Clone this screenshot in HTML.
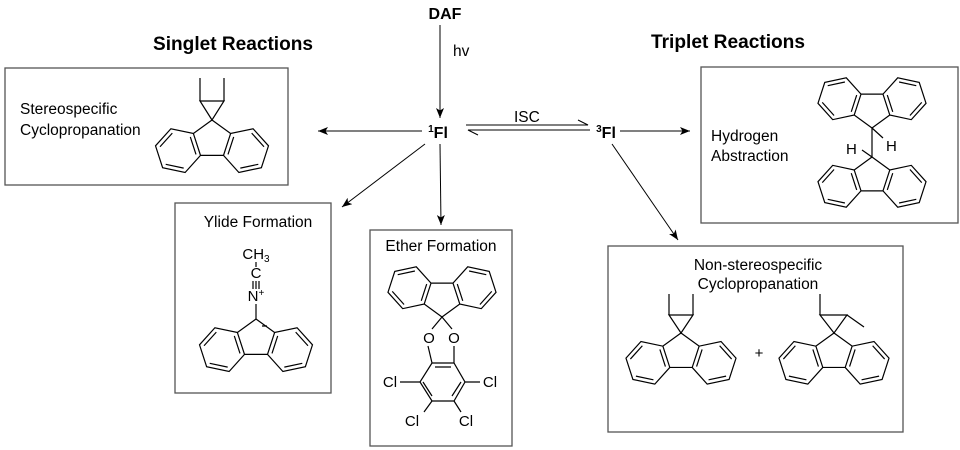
<!DOCTYPE html>
<html><head><meta charset="utf-8"><style>
html,body{margin:0;padding:0;background:#fff;}
svg{display:block;font-family:"Liberation Sans",Arial,sans-serif;}
.b{stroke:#000;stroke-width:1.2;fill:none;vector-effect:non-scaling-stroke}
</style></head><body>
<svg width="960" height="450" viewBox="0 0 960 450" xmlns="http://www.w3.org/2000/svg">
<defs>
<marker id="ar" markerWidth="10" markerHeight="8" refX="10" refY="4" orient="auto" markerUnits="userSpaceOnUse">
<path d="M0,0 L10,4 L0,8 L2.5,4 Z" fill="#000"/></marker>
<g id="half">
<path class="b" d="M0 0 L16.18 11.75 L35.74 7.59 L49.12 22.45 L42.94 41.47 L23.38 45.63 L10 30.77 L16.18 11.75 M10 30.77 L0 30.77 M18.86 14.72 L13.91 29.94 M34.5 11.39 L45.21 23.28 M40.26 38.5 L24.62 41.83"/>
</g>
<g id="fl"><use href="#half"/><use href="#half" transform="scale(-1,1)"/></g>
</defs>
<g fill="none" stroke="#555" stroke-width="1.3">
<rect x="5" y="68" width="283" height="117"/>
<rect x="175" y="203" width="156" height="190"/>
<rect x="370" y="230" width="142" height="216"/>
<rect x="701" y="67" width="257" height="156"/>
<rect x="608" y="246" width="295" height="186"/>
</g>
<g font-weight="bold" font-size="19" text-anchor="middle">
<text x="233" y="50" textLength="160" lengthAdjust="spacingAndGlyphs">Singlet Reactions</text>
<text x="728" y="48" textLength="154" lengthAdjust="spacingAndGlyphs">Triplet Reactions</text>
<text x="445" y="19" font-size="16">DAF</text>
<text x="438" y="138" font-size="16"><tspan font-size="10" dy="-6">1</tspan><tspan dy="6">Fl</tspan></text>
<text x="606" y="138" font-size="16"><tspan font-size="10" dy="-6">3</tspan><tspan dy="6">Fl</tspan></text>
</g>
<g font-size="15.5">
<text x="453" y="56">hv</text>
<text x="514" y="122">ISC</text>
<text x="20" y="114">Stereospecific</text>
<text x="20" y="135">Cyclopropanation</text>
<text x="258" y="227" text-anchor="middle">Ylide Formation</text>
<text x="441" y="251" text-anchor="middle">Ether Formation</text>
<text x="711" y="141">Hydrogen</text>
<text x="711" y="161">Abstraction</text>
<text x="758" y="270" text-anchor="middle">Non-stereospecific</text>
<text x="758" y="289" text-anchor="middle">Cyclopropanation</text>
</g>
<g stroke="#000" stroke-width="1" fill="none">
<line x1="440" y1="25" x2="440" y2="118" marker-end="url(#ar)"/>
<line x1="422" y1="131" x2="318" y2="131" marker-end="url(#ar)"/>
<line x1="620" y1="131" x2="690" y2="131" marker-end="url(#ar)"/>
<line x1="425" y1="144" x2="342" y2="207" marker-end="url(#ar)"/>
<line x1="440" y1="144" x2="441" y2="225" marker-end="url(#ar)"/>
<line x1="612" y1="144" x2="678" y2="240" marker-end="url(#ar)"/>
<path d="M466 125 L588 125 L578 120"/>
<path d="M590 130 L468 130 L478 135"/>
</g>
<use href="#fl" transform="translate(212,120) scale(1.15)"/>
<path class="b" d="M212 120 L200 101 L224 101 Z M200 101 V78 M224 101 V78"/>
<use href="#fl" transform="translate(256,319) scale(1.15)"/>
<g font-size="15" text-anchor="middle">
<text x="256" y="259">CH<tspan font-size="10" dy="3">3</tspan></text>
<text x="256" y="278">C</text>
<text x="256" y="301">N<tspan font-size="10" dy="-5">+</tspan></text>
</g>
<path class="b" d="M256 262 V267 M253 281 V289 M256 281 V289 M259 281 V289 M256 304 V319 M262 326 h5"/>
<use href="#fl" transform="translate(442,317) rotate(180) scale(1.1)"/>
<path class="b" d="M442 317 L432 329 M442 317 L452 329 M428 346 L432 363 M454 346 L454 363 M432 363 L454 363 L465 382 L454 401 L432 401 L420 382 Z M435 367 L451 367 M461 382 L452 396 M423 382 L432 396 M420 382 H400 M465 382 H480 M432 401 L424 412 M454 401 L461 412"/>
<g font-size="15" text-anchor="middle">
<text x="429" y="343">O</text><text x="454" y="343">O</text>
<text x="390" y="387">Cl</text><text x="490" y="387">Cl</text>
<text x="412" y="426">Cl</text><text x="466" y="426">Cl</text>
</g>
<use href="#fl" transform="translate(872,128) rotate(180) scale(1.1)"/>
<use href="#fl" transform="translate(872,157) scale(1.1)"/>
<path class="b" d="M872 128 V157 M872 128 L883 138 M872 157 L862 150"/>
<text x="886" y="151" font-size="15">H</text>
<text x="846" y="154" font-size="15">H</text>
<use href="#fl" transform="translate(681,333) scale(1.12)"/>
<path class="b" d="M681 333 L669 315 L693 315 Z M669 315 V294 M693 315 V294"/>
<text x="759" y="358" font-size="15" text-anchor="middle">+</text>
<use href="#fl" transform="translate(834,333) scale(1.12)"/>
<path class="b" d="M834 333 L820 315 L847 315 Z M820 315 V294 M847 315 L864 327"/>
</svg>
</body></html>
